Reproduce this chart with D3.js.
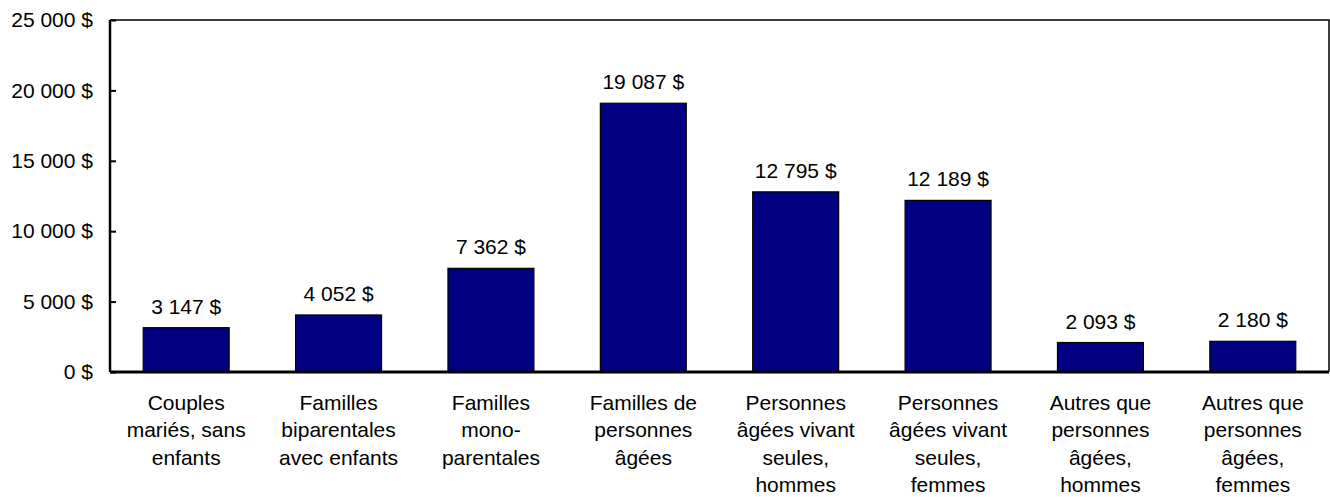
<!DOCTYPE html>
<html>
<head>
<meta charset="utf-8">
<script src="https://cdn.jsdelivr.net/npm/d3@7"></script>
<style>
  body { margin: 0; background: #fff; }
</style>
</head>
<body>
<svg id="chart"></svg>
<script>
var margin = {top: 20, right: 1, bottom: 125, left: 110},
    W = 1330, H = 497,
    width = W - margin.left - margin.right,
    height = H - margin.top - margin.bottom;
var FONT = "'Liberation Sans', Arial, sans-serif";

// categories (lines of each label)
var categories = [
  ["Couples", "mariés, sans", "enfants"],
  ["Familles", "biparentales", "avec enfants"],
  ["Familles", "mono-", "parentales"],
  ["Familles de", "personnes", "âgées"],
  ["Personnes", "âgées vivant", "seules,", "hommes"],
  ["Personnes", "âgées vivant", "seules,", "femmes"],
  ["Autres que", "personnes", "âgées,", "hommes"],
  ["Autres que", "personnes", "âgées,", "femmes"]
];
var values = [3147, 4052, 7362, 19087, 12795, 12189, 2093, 2180];
var yTicks = [0, 5000, 10000, 15000, 20000, 25000];

function fmt(v) { return d3.format(",")(v).replace(/,/g, " ") + " $"; }

var svg = d3.select("#chart").attr("width", W).attr("height", H)
  .append("g").attr("transform", "translate(" + margin.left + "," + margin.top + ")");

var x = d3.scaleBand().domain(d3.range(values.length)).range([0, width]).paddingInner(0.436).paddingOuter(0.218);
var y = d3.scaleLinear().domain([0, 25000]).range([height, 0]);

// frame top & right
svg.append("path")
  .attr("d", "M0,0H" + width + "V" + height)
  .attr("fill", "none").attr("stroke", "#000").attr("stroke-width", 1.5);

// bars
svg.selectAll(".bar").data(values).enter().append("rect")
  .attr("x", function(d, i) { return x(i); })
  .attr("y", function(d) { return y(d); })
  .attr("width", x.bandwidth())
  .attr("height", function(d) { return height - y(d); })
  .attr("fill", "#000080").attr("stroke", "#000").attr("stroke-width", 1.2);

// value labels
svg.selectAll(".val").data(values).enter().append("text")
  .attr("x", function(d, i) { return x(i) + x.bandwidth() / 2; })
  .attr("y", function(d) { return y(d) - 14; })
  .attr("text-anchor", "middle")
  .style("font-family", FONT).style("font-size", "21px").style("fill", "#000")
  .text(fmt);

// y axis
var yAxis = svg.append("g")
  .call(d3.axisLeft(y).tickValues(yTicks).tickSize(-6).tickPadding(17).tickFormat(fmt));
yAxis.select(".domain").attr("stroke-width", 2.5).attr("d", "M0,0V" + height);
yAxis.selectAll(".tick line").attr("stroke-width", 2);
yAxis.selectAll("text").style("font-size", "21px").style("fill", "#000")
  .style("font-family", FONT);

// baseline
svg.append("line").attr("x1", 0).attr("x2", width).attr("y1", height).attr("y2", height)
  .attr("stroke", "#000").attr("stroke-width", 3);

// category labels
var cat = svg.selectAll(".cat").data(categories).enter().append("text")
  .attr("text-anchor", "middle")
  .style("font-family", FONT).style("font-size", "21px").style("fill", "#000")
  .attr("transform", function(d, i) { return "translate(" + (x(i) + x.bandwidth() / 2) + "," + (height + 37.5) + ")"; });
cat.selectAll("tspan").data(function(d) { return d; }).enter().append("tspan")
  .attr("x", 0).attr("y", function(d, j) { return j * 27.5; })
  .text(function(d) { return d; });
</script>
</body>
</html>
